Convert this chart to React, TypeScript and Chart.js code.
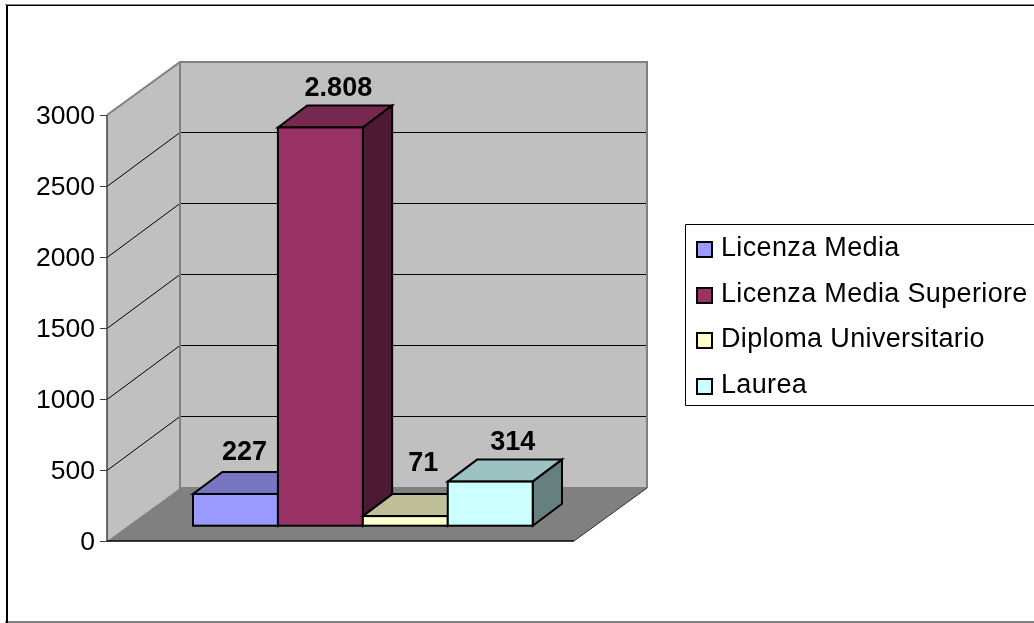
import React, { useEffect, useRef } from "react";
import { Chart, registerables } from "chart.js";

Chart.register(...registerables);

const categories = [""];
const seriesNames = ["Licenza Media", "Licenza Media Superiore", "Diploma Universitario", "Laurea"];
const licenzaMedia = [227];
const licenzaMediaSuperiore = [2808];
const diplomaUniversitario = [71];
const laurea = [314];
const seriesValues = [licenzaMedia, licenzaMediaSuperiore, diplomaUniversitario, laurea];
const frontColors = ["#9999FF", "#993366", "#FFFFCC", "#CCFFFF"];
const topColors = ["#7676C2", "#76284F", "#BFBF99", "#9CC2C2"];
const sideColors = ["#4D4D80", "#4D1A33", "#808066", "#668080"];

const FONT = '"Liberation Sans", Arial, sans-serif';
const WALL_DX = 73;
const WALL_DY = 53;
const GRID_DY = 54;
const BAR_DX = 29.3;
const BAR_DY = 22;
const BAR_SHIFT_X = 22.35;
const BAR_SHIFT_Y = -14.8;
// label nudges relative to each bar's front-top centre
const LABEL_NUDGE = [[9, -34], [18, -31], [18, -45], [22.5, -32]];

const poly = (ctx: CanvasRenderingContext2D, pts: number[][], fill?: string, stroke?: string, lw = 1) => {
  ctx.beginPath();
  pts.forEach((p, i) => (i ? ctx.lineTo(p[0], p[1]) : ctx.moveTo(p[0], p[1])));
  ctx.closePath();
  if (fill) {
    ctx.fillStyle = fill;
    ctx.fill();
  }
  if (stroke) {
    ctx.strokeStyle = stroke;
    ctx.lineWidth = lw;
    ctx.lineJoin = "miter";
    ctx.stroke();
  }
};

const scene3d = {
  id: "scene3d",
  beforeDraw(chart: any) {
    const ctx = chart.ctx;
    ctx.save();
    ctx.fillStyle = "#FFFFFF";
    ctx.fillRect(0, 0, chart.width, chart.height);
    ctx.fillStyle = "#808080";
    ctx.fillRect(5, 4, chart.width, 1);
    ctx.fillRect(5, 621, chart.width, 2);
    ctx.fillStyle = "#000000";
    ctx.fillRect(6, 5, chart.width, 1);
    ctx.fillRect(6, 5, 2, 618);
    ctx.restore();
  },
  beforeDatasetsDraw(chart: any) {
    const ctx = chart.ctx;
    const { left, right, top, bottom } = chart.chartArea;
    const y = chart.scales.y;
    const dx = WALL_DX;
    const dy = WALL_DY;
    ctx.save();
    // back wall, left wall, floor
    poly(ctx, [[left + dx, top - dy], [right + dx, top - dy], [right + dx, bottom - dy], [left + dx, bottom - dy]], "#C0C0C0");
    poly(ctx, [[left, top], [left + dx, top - dy], [left + dx, bottom - dy], [left, bottom]], "#C0C0C0");
    poly(ctx, [[left, bottom], [right, bottom], [right + dx, bottom - dy], [left + dx, bottom - dy]], "#808080");
    // gridlines from the scale
    ctx.strokeStyle = "#000000";
    ctx.lineWidth = 1;
    y.ticks.forEach((_t: any, i: number) => {
      const p = Math.round(y.getPixelForTick(i)) + 0.5;
      if (i === 0 || i === y.ticks.length - 1) return;
      ctx.beginPath();
      ctx.moveTo(left, p);
      ctx.lineTo(left + dx, p - GRID_DY);
      ctx.lineTo(right + dx, p - GRID_DY);
      ctx.stroke();
    });
    // wall edges
    ctx.strokeStyle = "#808080";
    ctx.lineWidth = 2;
    ctx.beginPath();
    ctx.moveTo(left, top);
    ctx.lineTo(left + dx, top - dy);
    ctx.lineTo(right + dx, top - dy);
    ctx.lineTo(right + dx, bottom - dy);
    ctx.moveTo(left + dx, top - dy);
    ctx.lineTo(left + dx, bottom - dy);
    ctx.lineTo(right + dx, bottom - dy);
    ctx.stroke();
    ctx.strokeStyle = "#404040";
    ctx.lineWidth = 1.5;
    ctx.beginPath();
    ctx.moveTo(left, top);
    ctx.lineTo(left, bottom);
    ctx.stroke();
    // floor front edges
    ctx.strokeStyle = "#000000";
    ctx.lineWidth = 1.5;
    ctx.beginPath();
    ctx.moveTo(left, bottom);
    ctx.lineTo(right, bottom);
    ctx.stroke();
    ctx.strokeStyle = "#303030";
    ctx.lineWidth = 1;
    ctx.beginPath();
    ctx.moveTo(right, bottom);
    ctx.lineTo(right + dx, bottom - dy);
    ctx.stroke();
    // bars, left to right, each with its depth faces
    chart.data.datasets.forEach((_ds: any, i: number) => {
      const meta = chart.getDatasetMeta(i);
      const bar = meta.data[0];
      ctx.save();
      ctx.translate(BAR_SHIFT_X, BAR_SHIFT_Y);
      const l = bar.x - bar.width / 2;
      const r = bar.x + bar.width / 2;
      const t = bar.y;
      const b = bar.base;
      poly(ctx, [[l, t], [r, t], [r + BAR_DX, t - BAR_DY], [l + BAR_DX, t - BAR_DY]], topColors[i], "#000000", 2);
      poly(ctx, [[r, t], [r + BAR_DX, t - BAR_DY], [r + BAR_DX, b - BAR_DY], [r, b]], sideColors[i], "#000000", 2);
      meta.controller.draw();
      ctx.strokeStyle = "#000000";
      ctx.lineWidth = 2;
      ctx.strokeRect(l, t, bar.width, b - t);
      ctx.restore();
    });
    ctx.restore();
  },
  // the bars are already drawn above in back-to-front order
  beforeDatasetDraw() {
    return false;
  },
  afterDatasetsDraw(chart: any) {
    const ctx = chart.ctx;
    ctx.save();
    // value labels
    ctx.font = `bold 27px ${FONT}`;
    ctx.fillStyle = "#000000";
    ctx.textAlign = "center";
    ctx.textBaseline = "alphabetic";
    chart.data.datasets.forEach((ds: any, i: number) => {
      const bar = chart.getDatasetMeta(i).data[0];
      const text = String(ds.data[0]).replace(/\B(?=(\d{3})+$)/g, ".");
      ctx.fillText(text, bar.x + BAR_SHIFT_X + LABEL_NUDGE[i][0], bar.y + BAR_SHIFT_Y + LABEL_NUDGE[i][1]);
    });
    // legend
    const lx = 686;
    const ly = 224;
    ctx.fillStyle = "#FFFFFF";
    ctx.fillRect(lx, ly, chart.width - lx, 181);
    ctx.strokeStyle = "#000000";
    ctx.lineWidth = 1;
    ctx.beginPath();
    ctx.moveTo(chart.width + 2, ly + 0.5);
    ctx.lineTo(lx - 0.5, ly + 0.5);
    ctx.lineTo(lx - 0.5, ly + 181.5);
    ctx.lineTo(chart.width + 2, ly + 181.5);
    ctx.stroke();
    ctx.font = `27px ${FONT}`;
    (ctx as any).letterSpacing = "0.35px";
    ctx.textAlign = "left";
    ctx.textBaseline = "alphabetic";
    chart.data.datasets.forEach((ds: any, i: number) => {
      const rowY = ly + 18 + i * 45.5;
      ctx.fillStyle = frontColors[i];
      ctx.fillRect(lx + 11, rowY, 15, 15);
      ctx.strokeStyle = "#000000";
      ctx.lineWidth = 2;
      ctx.strokeRect(lx + 11, Math.round(rowY), 15, 15);
      ctx.fillStyle = "#000000";
      ctx.fillText(ds.label, lx + 35, rowY + 14);
    });
    (ctx as any).letterSpacing = "0px";
    ctx.restore();
  },
};

export default function App() {
  const ref = useRef<HTMLCanvasElement>(null);
  useEffect(() => {
    document.body.style.margin = "0";
    const chart = new Chart(ref.current as HTMLCanvasElement, {
      type: "bar",
      data: {
        labels: categories,
        datasets: seriesNames.map((label, i) => ({
          label,
          data: seriesValues[i],
          backgroundColor: frontColors[i],
          borderWidth: 0,
          clip: false,
          categoryPercentage: 0.7274,
          barPercentage: 1,
        })),
      },
      options: {
        responsive: false,
        animation: false,
        layout: { padding: { left: 0, top: 115, right: 460, bottom: 82 } },
        plugins: { legend: { display: false }, title: { display: false }, tooltip: { enabled: false } },
        scales: {
          x: { display: false },
          y: {
            min: 0,
            max: 3000,
            afterFit: (s: any) => {
              s.width = 107;
            },
            ticks: {
              stepSize: 500,
              color: "#000000",
              padding: 5,
              labelOffset: 2,
              font: { family: FONT, size: 26.5 },
              callback: (v: any) => String(v),
            },
            border: { display: false },
            grid: { drawOnChartArea: false, drawTicks: true, tickLength: 7, color: "#404040" },
          },
        },
      },
      plugins: [scene3d],
    } as any);
    return () => chart.destroy();
  }, []);
  return <canvas ref={ref} width={1034} height={623} style={{ display: "block" }} />;
}
